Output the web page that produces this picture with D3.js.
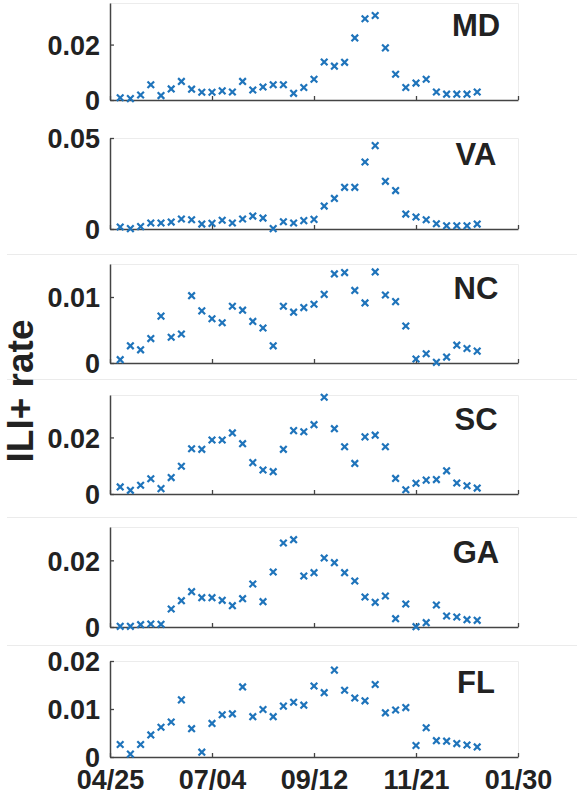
<!DOCTYPE html>
<html>
<head>
<meta charset="utf-8">
<script src="https://cdn.jsdelivr.net/npm/d3@7"></script>
<style>
  body { margin: 0; background: #fff; }
  text { font-family: "Liberation Sans", Arial, sans-serif; font-weight: bold; fill: #222; }
</style>
</head>
<body>
<svg id="chart"></svg>
<script>
'use strict';

// weekly observation dates
const weeks = [
  '2015-05-02', '2015-05-09', '2015-05-16', '2015-05-23', '2015-05-30', '2015-06-06',
  '2015-06-13', '2015-06-20', '2015-06-27', '2015-07-04', '2015-07-11', '2015-07-18',
  '2015-07-25', '2015-08-01', '2015-08-08', '2015-08-15', '2015-08-22', '2015-08-29',
  '2015-09-05', '2015-09-12', '2015-09-19', '2015-09-26', '2015-10-03', '2015-10-10',
  '2015-10-17', '2015-10-24', '2015-10-31', '2015-11-07', '2015-11-14', '2015-11-21',
  '2015-11-28', '2015-12-05', '2015-12-12', '2015-12-19', '2015-12-26', '2016-01-02'
];
const xTicks = ['2015-04-25', '2015-07-04', '2015-09-12', '2015-11-21', '2016-01-30'];

const md = [0.0008, 0.0005, 0.0018, 0.0055, 0.0016, 0.0040, 0.0067, 0.0039, 0.0028, 0.0028,
  0.0033, 0.0029, 0.0067, 0.0036, 0.0047, 0.0055, 0.0055, 0.0024, 0.0045, 0.0075,
  0.0137, 0.0122, 0.0136, 0.0224, 0.0293, 0.0305, 0.0188, 0.0093, 0.0045, 0.0061,
  0.0075, 0.0029, 0.0021, 0.0021, 0.0021, 0.0029];
const va = [0.0011, 0.0002, 0.0013, 0.0033, 0.0033, 0.0038, 0.0055, 0.0051, 0.0027, 0.0031,
  0.0048, 0.0033, 0.0055, 0.0071, 0.0060, 0.0002, 0.0040, 0.0033, 0.0046, 0.0053,
  0.0126, 0.0168, 0.0229, 0.0229, 0.0368, 0.0458, 0.0262, 0.0211, 0.0082, 0.0066,
  0.0051, 0.0029, 0.0018, 0.0018, 0.0018, 0.0027];
const nc = [0.0005, 0.0026, 0.0020, 0.0037, 0.0071, 0.0039, 0.0044, 0.0102, 0.0079, 0.0067,
  0.0061, 0.0086, 0.0080, 0.0063, 0.0053, 0.0026, 0.0086, 0.0077, 0.0084, 0.0089,
  0.0104, 0.0135, 0.0137, 0.0110, 0.0091, 0.0138, 0.0103, 0.0093, 0.0056, 0.0006,
  0.0014, 0.0001, 0.0009, 0.0027, 0.0022, 0.0018];
const sc = [0.0025, 0.0013, 0.0031, 0.0054, 0.0019, 0.0058, 0.0098, 0.0160, 0.0158, 0.0191,
  0.0191, 0.0216, 0.0178, 0.0111, 0.0085, 0.0079, 0.0158, 0.0224, 0.0220, 0.0245,
  0.0342, 0.0231, 0.0167, 0.0108, 0.0202, 0.0208, 0.0167, 0.0055, 0.0015, 0.0038,
  0.0049, 0.0051, 0.0082, 0.0039, 0.0029, 0.0021];
const ga = [0.0002, 0.0002, 0.0007, 0.0009, 0.0008, 0.0054, 0.0079, 0.0106, 0.0088, 0.0088,
  0.0080, 0.0064, 0.0085, 0.0129, 0.0076, 0.0165, 0.0252, 0.0262, 0.0153, 0.0163,
  0.0207, 0.0193, 0.0163, 0.0138, 0.0090, 0.0074, 0.0093, 0.0025, 0.0069, 0.0001,
  0.0013, 0.0066, 0.0033, 0.0030, 0.0022, 0.0020];
const fl = [0.0026, 0.0006, 0.0026, 0.0046, 0.0062, 0.0073, 0.0119, 0.0059, 0.0010, 0.0070,
  0.0088, 0.0090, 0.0146, 0.0084, 0.0099, 0.0084, 0.0106, 0.0114, 0.0108, 0.0148,
  0.0134, 0.0181, 0.0139, 0.0123, 0.0117, 0.0151, 0.0092, 0.0098, 0.0103, 0.0024,
  0.0061, 0.0034, 0.0033, 0.0028, 0.0025, 0.0021];

const states = ['MD', 'VA', 'NC', 'SC', 'GA', 'FL'];
const series = [md, va, nc, sc, ga, fl];
const yMax = [0.035, 0.05, 0.015, 0.035, 0.03, 0.02];
const yTicks = [[0, 0.02], [0, 0.05], [0, 0.01], [0, 0.02], [0, 0.02], [0, 0.01, 0.02]];

// panel placement (top, bottom of each axes box)
const panels = [
  { top: 3, bottom: 100 },
  { top: 138, bottom: 229 },
  { top: 264, bottom: 363 },
  { top: 395, bottom: 494 },
  { top: 527, bottom: 627 },
  { top: 661, bottom: 757 }
];
const seams = [254, 379, 517, 645];

const width = 577, height = 795;
const left = 110, right = 518;
const blue = '#1f74bb';
const axisColor = '#444';

const parse = d3.timeParse('%Y-%m-%d');
const dates = weeks.map(parse);
const tickDates = xTicks.map(parse);
const fmt = d3.timeFormat('%m/%d');

const svg = d3.select('#chart')
    .attr('width', width)
    .attr('height', height);

// faint borders between the stacked figures
svg.append('g')
    .selectAll('line')
    .data(seams)
  .enter().append('line')
    .attr('x1', 7).attr('x2', width)
    .attr('y1', d => d + 0.5).attr('y2', d => d + 0.5)
    .attr('stroke', '#ebebeb');

const x = d3.scaleTime()
    .domain([tickDates[0], tickDates[tickDates.length - 1]])
    .range([left, right]);

const cross = 3.3;

states.forEach((name, i) => {
  const p = panels[i];
  const y = d3.scaleLinear()
      .domain([0, yMax[i]])
      .range([p.bottom, p.top]);

  const g = svg.append('g');

  // light box edges (top / right)
  g.append('path')
      .attr('d', `M${left},${p.top + 0.5}H${right + 0.5}V${p.bottom}`)
      .attr('fill', 'none')
      .attr('stroke', '#ececec');

  const isLast = i === states.length - 1;
  const xAxis = d3.axisBottom(x)
      .tickValues(tickDates)
      .tickSize(-4)
      .tickSizeOuter(0)
      .tickPadding(isLast ? 13 : 0)
      .tickFormat(isLast ? fmt : '');

  const yAxis = d3.axisLeft(y)
      .tickValues(yTicks[i])
      .tickSize(-4)
      .tickSizeOuter(0)
      .tickPadding(10)
      .tickFormat(d => d === 0 ? '0' : d3.format('.2f')(d));

  const gx = g.append('g')
      .attr('transform', `translate(0, ${p.bottom})`)
      .call(xAxis);

  const gy = g.append('g')
      .attr('transform', `translate(${left}, 0)`)
      .call(yAxis);

  [gx, gy].forEach(ax => {
    ax.select('.domain').attr('stroke', axisColor).attr('stroke-width', 1.5);
    ax.selectAll('.tick line').attr('stroke', axisColor).attr('stroke-width', 1.3);
    ax.selectAll('.tick text')
        .attr('fill', '#222')
        .style('font-family', '"Liberation Sans", Arial, sans-serif')
        .style('font-weight', 'bold')
        .style('font-size', '27px');
  });
  gy.selectAll('.tick text').attr('dy', '0.36em');
  gx.selectAll('.tick text').attr('dy', '0.7em');

  g.append('g')
      .attr('stroke', blue)
      .attr('stroke-width', 2.2)
      .attr('fill', 'none')
      .selectAll('path')
      .data(series[i])
    .enter().append('path')
      .attr('d', (d, j) => {
        const cx = x(dates[j]), cy = y(d);
        return `M${cx - cross},${cy - cross}L${cx + cross},${cy + cross}` +
               `M${cx - cross},${cy + cross}L${cx + cross},${cy - cross}`;
      });

  g.append('text')
      .attr('x', 476)
      .attr('y', p.bottom - 64)
      .attr('text-anchor', 'middle')
      .style('font-size', '31px')
      .text(name);
});

svg.append('text')
    .attr('transform', 'translate(33, 391) rotate(-90)')
    .attr('text-anchor', 'middle')
    .style('font-size', '37px')
    .text('ILI+ rate');
</script>
</body>
</html>
